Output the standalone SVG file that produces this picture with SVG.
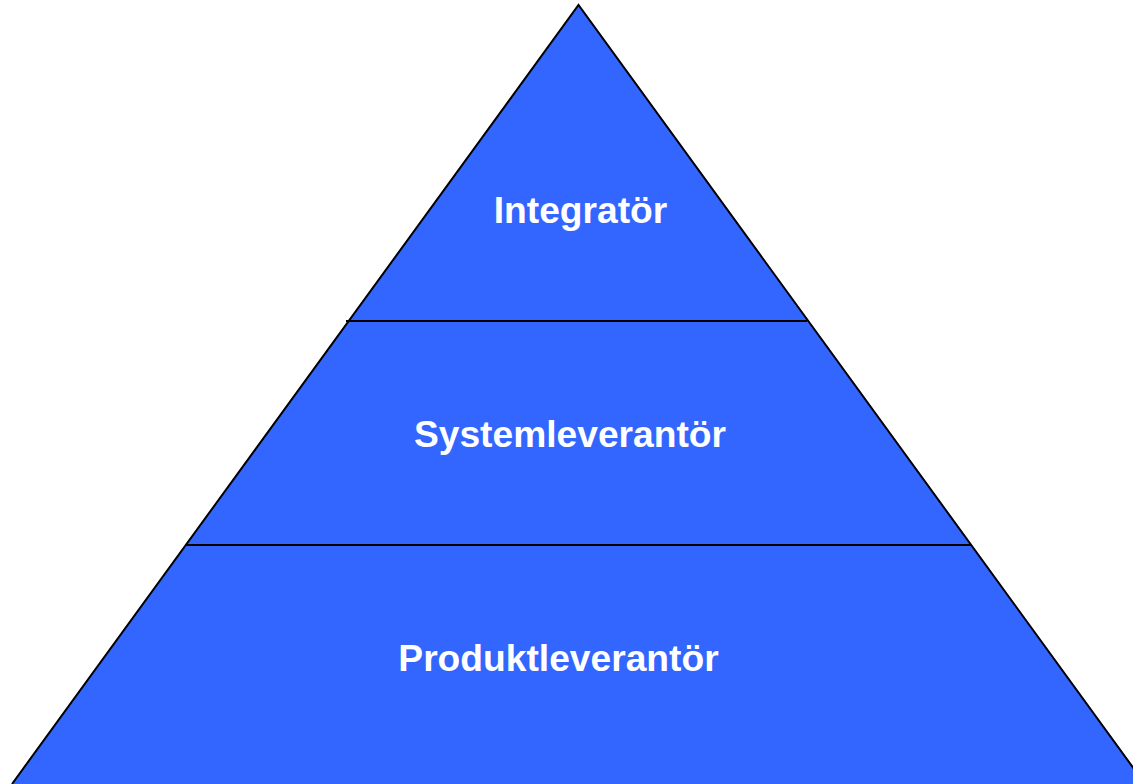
<svg xmlns="http://www.w3.org/2000/svg" width="1133" height="784" viewBox="0 0 1133 784">
<style>
.tier{fill:#3366FF;stroke:none}
.edge{stroke:#000;stroke-width:2;fill:none}
.lbl{font-family:"Liberation Sans",Arial,sans-serif;font-weight:bold;font-size:37.2px;fill:#fff;text-anchor:middle}
</style>
<rect width="1133" height="784" fill="#fff"/>
<g id="pyramid">
<polygon class="tier" points="578.5,5 12,784 1145,784"/>
</g>
<g id="integrator">
<text class="lbl" x="580.5" y="223">Integratör</text>
</g>
<g id="systemleverantor">
<text class="lbl" x="570" y="447">Systemleverantör</text>
</g>
<g id="produktleverantor">
<text class="lbl" x="558.5" y="671">Produktleverantör</text>
</g>
<g id="connectors">
<polyline class="edge" points="12,784 578.5,5 1145,784"/>
<line class="edge" x1="346" y1="321" x2="807" y2="321"/>
<line class="edge" x1="185" y1="545" x2="971" y2="545"/>
</g>
</svg>
